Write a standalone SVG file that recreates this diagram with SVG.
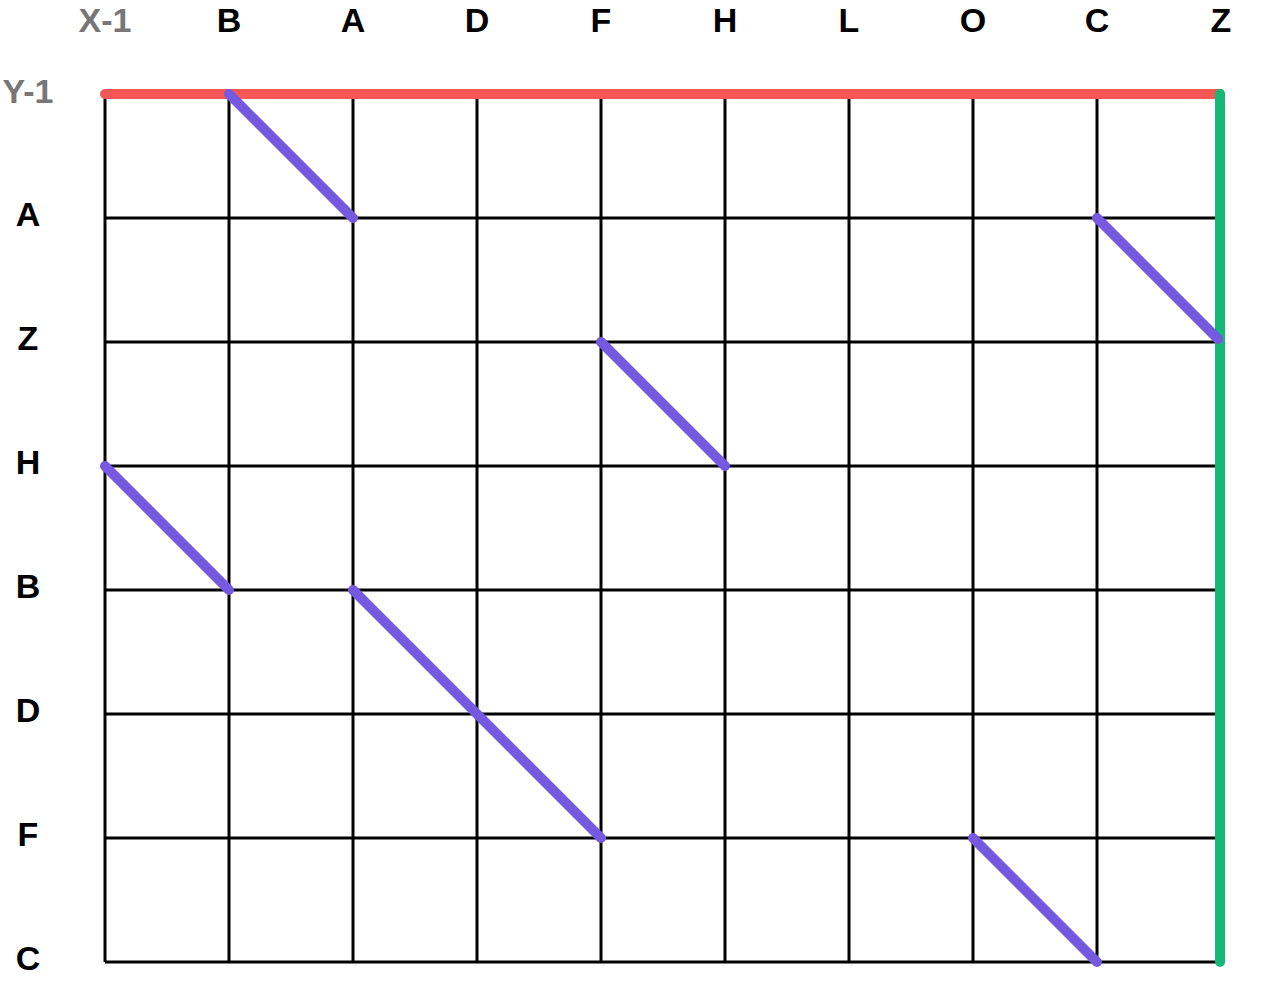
<svg xmlns="http://www.w3.org/2000/svg" width="1280" height="985" viewBox="0 0 1280 985">
<style>
.lbl{font-family:"Liberation Sans",Arial,sans-serif;font-weight:bold;font-size:34px;fill:#000;text-anchor:middle}
.gray{fill:#777}
.grid line{stroke:#000;stroke-width:3}
.diag{stroke:#7559E0;stroke-width:10;stroke-linecap:round}
</style>
<rect width="1280" height="985" fill="#fff"/>
<g id="col-labels">
<text class="lbl gray" x="105" y="32">X-1</text>
<text class="lbl" x="229" y="32">B</text>
<text class="lbl" x="353" y="32">A</text>
<text class="lbl" x="477" y="32">D</text>
<text class="lbl" x="601" y="32">F</text>
<text class="lbl" x="725" y="32">H</text>
<text class="lbl" x="849" y="32">L</text>
<text class="lbl" x="973" y="32">O</text>
<text class="lbl" x="1097" y="32">C</text>
<text class="lbl" x="1221" y="32">Z</text>
</g>
<g id="row-labels">
<text class="lbl gray" x="28" y="103">Y-1</text>
<text class="lbl" x="28" y="226">A</text>
<text class="lbl" x="28" y="350">Z</text>
<text class="lbl" x="28" y="474">H</text>
<text class="lbl" x="28" y="598">B</text>
<text class="lbl" x="28" y="722">D</text>
<text class="lbl" x="28" y="846">F</text>
<text class="lbl" x="28" y="970">C</text>
</g>
<g id="grid" class="grid">
<line x1="105" y1="94" x2="105" y2="962"/>
<line x1="229" y1="94" x2="229" y2="962"/>
<line x1="353" y1="94" x2="353" y2="962"/>
<line x1="477" y1="94" x2="477" y2="962"/>
<line x1="601" y1="94" x2="601" y2="962"/>
<line x1="725" y1="94" x2="725" y2="962"/>
<line x1="849" y1="94" x2="849" y2="962"/>
<line x1="973" y1="94" x2="973" y2="962"/>
<line x1="1097" y1="94" x2="1097" y2="962"/>
<line x1="105" y1="218" x2="1220" y2="218"/>
<line x1="105" y1="342" x2="1220" y2="342"/>
<line x1="105" y1="466" x2="1220" y2="466"/>
<line x1="105" y1="590" x2="1220" y2="590"/>
<line x1="105" y1="714" x2="1220" y2="714"/>
<line x1="105" y1="838" x2="1220" y2="838"/>
<line x1="105" y1="962" x2="1220" y2="962"/>
</g>
<g id="connectors">
<line x1="105" y1="94" x2="1220" y2="94" stroke="#F55656" stroke-width="10" stroke-linecap="round"/>
<line x1="1220" y1="94" x2="1220" y2="962" stroke="#16B877" stroke-width="10" stroke-linecap="round"/>
<line class="diag" x1="229" y1="94" x2="353" y2="218"/>
<line class="diag" x1="1097" y1="218" x2="1218" y2="339"/>
<line class="diag" x1="601" y1="342" x2="725" y2="466"/>
<line class="diag" x1="105" y1="466" x2="229" y2="590"/>
<line class="diag" x1="353" y1="590" x2="601" y2="838"/>
<line class="diag" x1="973" y1="838" x2="1097" y2="962"/>
</g>
</svg>
